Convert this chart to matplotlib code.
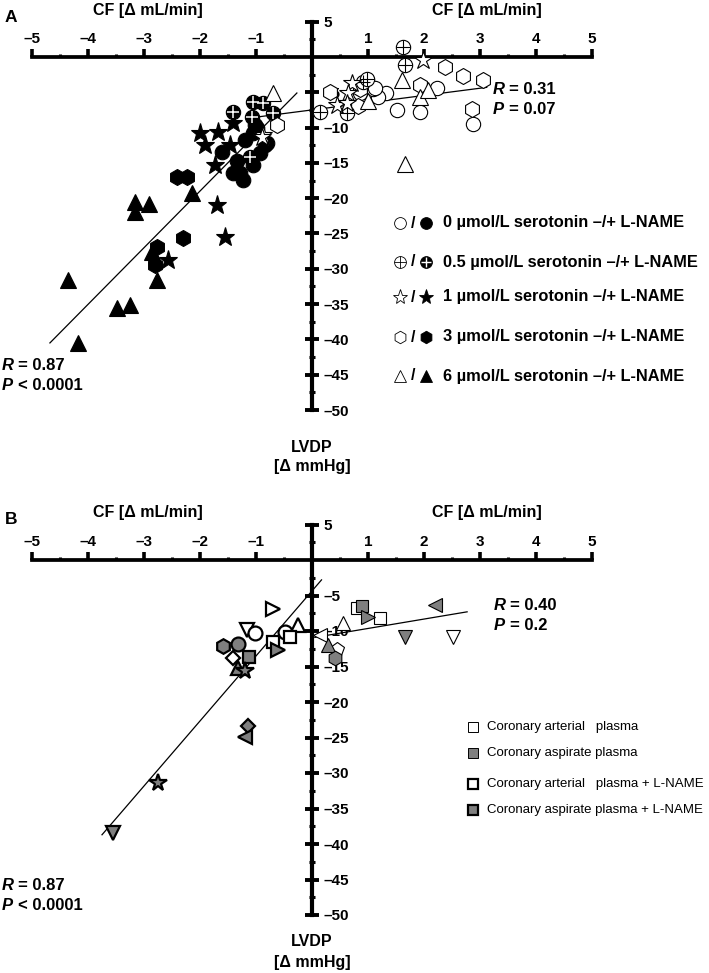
import numpy as np
import matplotlib
matplotlib.use('Agg')
import matplotlib.pyplot as plt

plt.rcParams['font.family'] = ['Liberation Sans', 'DejaVu Sans']

W, H = 709, 973

# ---------------- Panel A data (CF, LVDP) ----------------
# without L-NAME (open markers)
a0_x = [1.52, 1.93, 2.88, 1.33, 1.18, 1.09, 0.98, 0.86, 2.23, 1.12]
a0_y = [-7.5, -7.8, -9.5, -5.1, -5.7, -4.6, -3.3, -5.1, -4.4, -4.4]
a05_x = [1.63, 1.66, 0.91, 0.98, 0.62, 0.14]
a05_y = [1.4, -1.1, -3.5, -3.1, -7.9, -7.8]
a1_x = [1.98, 0.71, 0.65, 0.44, 0.62, -0.87, -0.90]
a1_y = [-0.4, -3.7, -5.1, -6.8, -6.5, -11.0, -11.3]
a3_x = [2.38, 2.69, 3.05, 1.93, 2.86, 0.32, 0.82, -0.63, 0.86]
a3_y = [-1.4, -2.7, -3.2, -4.0, -7.3, -5.0, -7.0, -9.6, -4.5]
a6_x = [1.61, 1.93, 2.07, 1.00, 1.66, -0.70]
a6_y = [-3.3, -5.6, -4.7, -6.3, -15.1, -5.1]
# with L-NAME (filled markers)
a0L_x = [-0.98, -1.20, -0.80, -0.93, -1.61, -1.34, -1.23, -1.41, -1.05, -1.02, -1.29, -0.84, -1.05]
a0L_y = [-10.0, -11.8, -12.2, -13.6, -13.4, -14.8, -17.4, -16.5, -15.3, -9.6, -16.4, -12.5, -10.8]
a05L_x = [-1.05, -0.87, -0.69, -1.41, -1.07, -1.10]
a05L_y = [-6.4, -6.5, -8.0, -7.8, -8.5, -14.2]
a1L_x = [-2.00, -1.68, -1.41, -1.91, -1.73, -1.46, -1.70, -1.55, -2.57]
a1L_y = [-10.8, -10.6, -9.4, -12.5, -15.3, -12.5, -21.0, -25.5, -28.8]
a3L_x = [-2.41, -2.23, -2.30, -2.77, -2.80]
a3L_y = [-17.0, -17.0, -25.6, -26.9, -29.5]
a6L_x = [-2.14, -3.16, -2.91, -3.16, -2.86, -2.77, -4.36, -3.48, -3.25, -4.17]
a6L_y = [-19.3, -20.5, -20.8, -22.0, -27.6, -31.6, -31.6, -35.6, -35.1, -40.5]
# regression lines (end points)
fitA_L_x = [-4.68, -0.27]
fitA_L_y = [-40.5, -5.1]
fitA_x = [-0.98, 3.12]
fitA_y = [-8.5, -4.3]

# ---------------- Panel B data ----------------
b_art_x = [0.80, 1.21, 0.55, 0.14, 2.52, 0.45]
b_art_y = [-6.7, -8.1, -8.9, -10.6, -10.8, -12.6]
b_art_m = ['s', 's', '^', '<', 'v', 'p']
b_asp_x = [0.89, 1.00, 2.20, 1.66, 0.29, 0.41]
b_asp_y = [-6.5, -8.0, -6.3, -10.8, -12.0, -13.8]
b_asp_m = ['s', '>', '<', 'v', '^', 'h']
b_artL_x = [-0.70, -1.16, -1.02, -0.48, -0.25, -1.41, -0.70, -0.40]
b_artL_y = [-6.9, -9.9, -10.3, -10.1, -9.1, -13.8, -11.5, -10.8]
b_artL_m = ['>', 'v', 'o', 'o', '^', 'D', 's', 's']
b_aspL_x = [-1.59, -1.32, -1.13, -1.32, -0.61, -1.14, -1.20, -2.75, -3.55, -1.20]
b_aspL_y = [-12.1, -11.8, -13.7, -15.2, -12.7, -23.4, -24.9, -31.4, -38.5, -15.6]
b_aspL_m = ['h', 'o', 's', '^', '>', 'D', '<', '*', 'v', '*']
fitB_L_x = [-3.75, 0.17]
fitB_L_y = [-38.7, -2.8]
fitB_x = [0.05, 2.77]
fitB_y = [-10.9, -7.3]

x_ticks = [-5, -4, -3, -2, -1, 1, 2, 3, 4, 5]
x_minor = [-4.5, -3.5, -2.5, -1.5, -0.5, 0.5, 1.5, 2.5, 3.5, 4.5]
y_ticks = [5, -5, -10, -15, -20, -25, -30, -35, -40, -45, -50]
y_minor = [2.5, -2.5, -7.5, -12.5, -17.5, -22.5, -27.5, -32.5, -37.5, -42.5, -47.5]

legendA = ['0 \u00b5mol/L serotonin \u2013/+ L-NAME',
           '0.5 \u00b5mol/L serotonin \u2013/+ L-NAME',
           '1 \u00b5mol/L serotonin \u2013/+ L-NAME',
           '3 \u00b5mol/L serotonin \u2013/+ L-NAME',
           '6 \u00b5mol/L serotonin \u2013/+ L-NAME']
legendB = ['Coronary arterial   plasma',
           'Coronary aspirate plasma',
           'Coronary arterial   plasma + L-NAME',
           'Coronary aspirate plasma + L-NAME']

GRAY = '#7f7f7f'

fig = plt.figure(figsize=(W / 100, H / 100), dpi=100)


def make_axes(top_px, bot_px, y0_px, yscale, x0_px=312, xscale=56.0):
    ax = fig.add_axes([0, 1 - bot_px / H, 1, (bot_px - top_px) / H])
    ax.set_xlim(-x0_px / xscale, (W - x0_px) / xscale)
    ax.set_ylim(-(bot_px - y0_px) / yscale, (y0_px - top_px) / yscale)
    ax.patch.set_alpha(0)
    ax.spines['left'].set_visible(False)
    ax.spines['bottom'].set_visible(False)
    ax.spines['top'].set_position(('data', 0))
    ax.spines['right'].set_position(('data', 0))
    ax.spines['top'].set_bounds(-5, 5)
    ax.spines['right'].set_bounds(-50, 5)
    ax.spines['top'].set_linewidth(2.7)
    ax.spines['right'].set_linewidth(3.0)
    ax.xaxis.set_ticks_position('top')
    ax.yaxis.set_ticks_position('right')
    ax.set_xticks(x_ticks)
    ax.set_xticklabels([('\u2013%d' % -t) if t < 0 else '%d' % t for t in x_ticks],
                       fontsize=11, fontweight='bold')
    ax.set_xticks(x_minor, minor=True)
    ax.set_yticks(y_ticks)
    ax.set_yticklabels([('\u2013%d' % -t) if t < 0 else '%d' % t for t in y_ticks],
                       fontsize=11, fontweight='bold')
    ax.set_yticks(y_minor, minor=True)
    ax.tick_params(axis='x', which='major', direction='out', length=5.5, width=2.6, pad=2.5)
    ax.tick_params(axis='x', which='minor', direction='out', length=2, width=2.2)
    ax.tick_params(axis='y', which='major', direction='inout', length=10, width=2.8, pad=3)
    ax.tick_params(axis='y', which='minor', direction='inout', length=4.5, width=2.2)
    return ax


def crossed(ax, xs, ys, filled, ms=10.3, z=3):
    if filled:
        ax.plot(xs, ys, 'o', ms=ms, mfc='black', mec='black', mew=0.8, zorder=z)
        ax.plot(xs, ys, '+', ms=ms * 0.85, mec='white', mew=1.1, zorder=z + 0.1)
    else:
        ax.plot(xs, ys, 'o', ms=ms, mfc='white', mec='black', mew=0.8, zorder=z)
        ax.plot(xs, ys, '+', ms=ms * 0.95, mec='black', mew=0.8, zorder=z + 0.1)


# ---------------- Panel A ----------------
axA = make_axes(0, 470, 57, 7.06)
axA.plot(fitA_L_x, fitA_L_y, '-', color='black', lw=0.9, zorder=2)
axA.plot(fitA_x, fitA_y, '-', color='black', lw=0.9, zorder=2)
kwF = dict(linestyle='none', mfc='black', mec='black', mew=0.8)
kwO = dict(linestyle='none', mfc='white', mec='black', mew=0.8)
axA.plot(a6L_x, a6L_y, '^', ms=11.5, zorder=3, **kwF)
axA.plot(a3L_x, a3L_y, 'h', ms=11.5, zorder=3, **kwF)
axA.plot(a1L_x, a1L_y, '*', ms=14, zorder=3, **kwF)
axA.plot(a0L_x, a0L_y, 'o', ms=10.5, zorder=3, **kwF)
crossed(axA, a05L_x, a05L_y, True, z=3.5)
axA.plot(a0_x, a0_y, 'o', ms=10.3, zorder=4, **kwO)
axA.plot(a3_x, a3_y, 'h', ms=11.5, zorder=4, **kwO)
axA.plot(a6_x, a6_y, '^', ms=11, zorder=4, **kwO)
crossed(axA, a05_x, a05_y, False, z=4.2)
axA.plot(a1_x, a1_y, '*', ms=13.5, zorder=4.5, **kwO)

# ---------------- Panel B ----------------
axB = make_axes(470, 973, 560, 7.1)
axB.plot(fitB_L_x, fitB_L_y, '-', color='black', lw=0.9, zorder=2)
axB.plot(fitB_x, fitB_y, '-', color='black', lw=0.9, zorder=2)


def series(ax, xs, ys, ms_list, fc, lw, z):
    size = {'s': 8, 'D': 7.5, 'o': 10, 'h': 10.5, '^': 10.5, 'v': 10.5, '<': 10.5,
            '>': 10.5, '*': 13, 'p': 10}
    for x, y, m in zip(xs, ys, ms_list):
        ax.plot([x], [y], m, ms=size[m], mfc=fc, mec='black', mew=lw, zorder=z)


series(axB, b_artL_x, b_artL_y, b_artL_m, 'white', 1.6, 3)
series(axB, b_aspL_x, b_aspL_y, b_aspL_m, GRAY, 1.6, 3.5)
series(axB, b_art_x, b_art_y, b_art_m, 'white', 0.8, 3)
series(axB, b_asp_x, b_asp_y, b_asp_m, GRAY, 0.8, 3.5)

# ---------------- overlay (texts, legends) in pixel units ----------------
ov = fig.add_axes([0, 0, 1, 1], zorder=-1)
ov.set_xlim(0, W)
ov.set_ylim(H, 0)
ov.axis('off')

bold = dict(fontweight='bold', color='black')
for yoff, letter in [(0, 'A'), (502, 'B')]:
    ov.text(11, 18 + yoff, letter, ha='center', va='center', fontsize=12.5, **bold)
    ov.text(148, 10 + yoff, 'CF [\u0394 mL/min]', ha='center', va='center', fontsize=11.5, **bold)
    ov.text(487, 10 + yoff, 'CF [\u0394 mL/min]', ha='center', va='center', fontsize=11.5, **bold)

for ylv in [447, 942]:
    ov.text(312, ylv, 'LVDP', ha='center', va='center', fontsize=11.5, **bold)
    ov.text(312, ylv + 20, '[\u0394 mmHg]', ha='center', va='center', fontsize=11.5, **bold)


def stat(x, y, letter, rest):
    ov.text(x, y, letter, ha='left', va='center', fontsize=12, fontstyle='italic', **bold)
    ov.text(x + 16, y, rest, ha='left', va='center', fontsize=12, **bold)


stat(493, 90, 'R', '= 0.31')
stat(493, 109, 'P', '= 0.07')
stat(2, 365, 'R', '= 0.87')
stat(2, 385, 'P', '< 0.0001')
stat(494, 605, 'R', '= 0.40')
stat(494, 626, 'P', '= 0.2')
stat(2, 885, 'R', '= 0.87')
stat(2, 905, 'P', '< 0.0001')

# legend A
leg_y = [223, 262, 297, 337, 376]
leg_m = ['o', 'o', '*', 'h', '^']
leg_s = [8.5, 8.5, 11, 9, 9]
for i, (yy, m, s, txt) in enumerate(zip(leg_y, leg_m, leg_s, legendA)):
    if i == 1:
        ov.plot([400], [yy], 'o', ms=s, mfc='white', mec='black', mew=0.6)
        ov.plot([400], [yy], '+', ms=s * 0.95, mec='black', mew=0.6)
        ov.plot([426], [yy], 'o', ms=s, mfc='black', mec='black', mew=0.6)
        ov.plot([426], [yy], '+', ms=s * 0.85, mec='white', mew=1.0)
    else:
        ov.plot([400], [yy], m, ms=s, mfc='white', mec='black', mew=0.6)
        ov.plot([426], [yy], m, ms=s, mfc='black', mec='black', mew=0.6)
    ov.text(413, yy, '/', ha='center', va='center', fontsize=11.5, **bold)
    ov.text(443, yy, txt, ha='left', va='center', fontsize=11.8, **bold)

# legend B
legB_y = [727, 753, 784, 810]
legB_fc = ['white', GRAY, 'white', GRAY]
legB_lw = [0.7, 0.7, 1.6, 1.6]
for yy, fc, lw, txt in zip(legB_y, legB_fc, legB_lw, legendB):
    ov.plot([473], [yy], 's', ms=7.5, mfc=fc, mec='black', mew=lw)
    ov.text(487, yy, txt, ha='left', va='center', fontsize=9.5, color='black')

fig.savefig('out.png', dpi=100)
